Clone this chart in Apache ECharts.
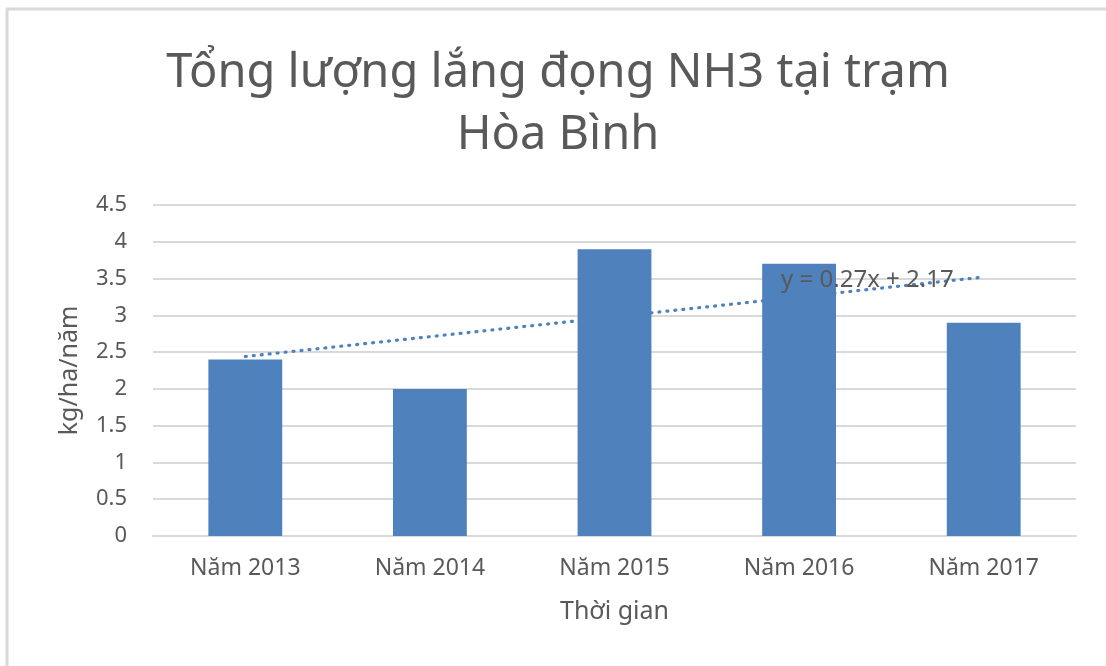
<!DOCTYPE html>
<html>
<head>
<meta charset="utf-8">
<script src="https://cdn.jsdelivr.net/npm/echarts@6/dist/echarts.min.js"></script>
<style>html,body{margin:0;padding:0;background:#fff;}#c{width:1106px;height:666px;}</style>
</head>
<body>
<div id="c"></div>
<script>
const categories = ['Năm 2013', 'Năm 2014', 'Năm 2015', 'Năm 2016', 'Năm 2017'];
const barValues = [2.4, 2.0, 3.9, 3.7, 2.9];
const trendValues = [2.44, null, null, null, 3.52];
const trendLabel = 'y = 0.27x + 2.17';
const yTicks = { min: 0, max: 4.5, interval: 0.5 };

const FONT = '"Noto Sans", sans-serif';
const chart = echarts.init(document.getElementById('c'), null, { renderer: 'canvas' });

const lastIdx = trendValues.length - 1;

chart.setOption({
  animation: false,
  backgroundColor: '#fff',
  title: {
    text: 'Tổng lượng lắng đọng NH3 tại trạm\nHòa Bình',
    left: 553, top: 38, textAlign: 'center',
    textStyle: { fontFamily: FONT, fontSize: 47, fontWeight: 'normal', color: '#595959', lineHeight: 62 }
  },
  graphic: [
    { type: 'line', shape: { x1: 6, y1: 9, x2: 1106, y2: 9 }, style: { stroke: '#d9d9d9', lineWidth: 3 } },
    { type: 'line', shape: { x1: 7, y1: 9, x2: 7, y2: 666 }, style: { stroke: '#d9d9d9', lineWidth: 3 } }
  ],
  grid: { left: 153, right: 30, top: 205, bottom: 130 },
  xAxis: {
    type: 'category', data: categories,
    name: 'Thời gian', nameLocation: 'middle', nameGap: 63,
    nameTextStyle: { fontFamily: FONT, fontSize: 25, color: '#595959' },
    axisLine: { lineStyle: { color: '#d9d9d9', width: 2 } },
    axisTick: { show: false },
    axisLabel: { fontFamily: FONT, fontSize: 23, color: '#595959', margin: 21 }
  },
  yAxis: {
    type: 'value', min: yTicks.min, max: yTicks.max, interval: yTicks.interval,
    name: 'kg/ha/năm', nameLocation: 'middle', nameGap: 71, nameRotate: 90,
    nameTextStyle: { fontFamily: FONT, fontSize: 25, color: '#595959' },
    axisLine: { show: false }, axisTick: { show: false },
    splitLine: { lineStyle: { color: '#d9d9d9', width: 2 } },
    axisLabel: { fontFamily: FONT, fontSize: 22, color: '#595959', margin: 26 }
  },
  series: [
    { type: 'bar', data: barValues, barWidth: '40%', itemStyle: { color: '#4F81BD' }, z: 2 },
    { type: 'line', data: trendValues, connectNulls: true, symbol: 'none', z: 3,
      lineStyle: { color: '#4F81BD', width: 3.2, type: [1, 7], cap: 'round' },
      markPoint: {
        symbol: 'circle', symbolSize: 0, silent: true,
        data: [{ coord: [lastIdx, trendValues[lastIdx]] }],
        label: { show: true, formatter: trendLabel, position: 'left', distance: 30, offset: [0, 3],
          color: '#595959', fontSize: 24, fontFamily: FONT }
      }
    }
  ]
});
</script>
</body>
</html>
